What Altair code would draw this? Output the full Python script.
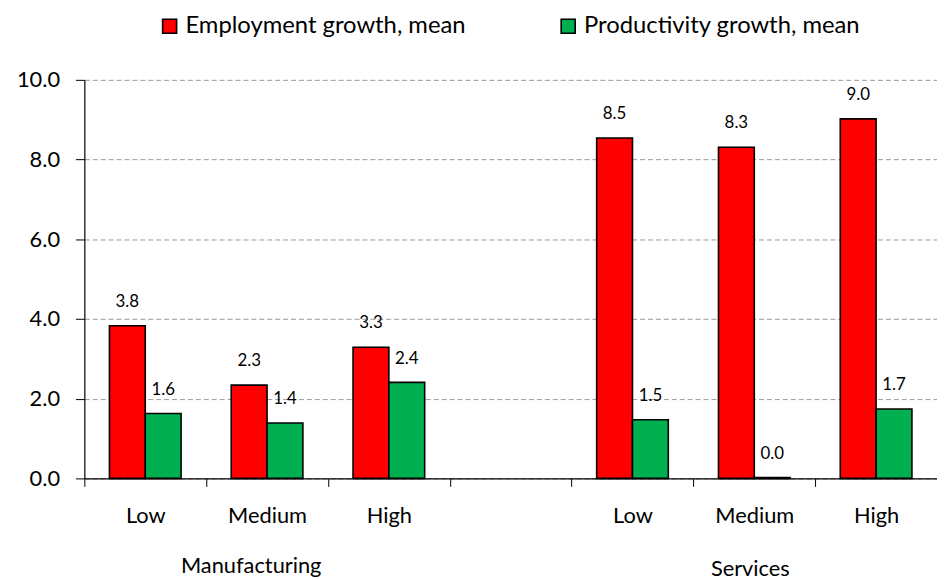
import altair as alt
import pandas as pd

categories = ["M-Low", "M-Medium", "M-High", "gap", "S-Low", "S-Medium", "S-High"]
tick_labels = ["Low", "Medium", "High", "", "Low", "Medium", "High"]
series = ["Employment growth, mean", "Productivity growth, mean"]
employment = [3.83, 2.34, 3.29, None, 8.54, 8.31, 9.02]
productivity = [1.63, 1.39, 2.41, None, 1.47, 0.02, 1.74]
groups = ["Manufacturing", "Services"]
group_centers = ["M-Medium", "S-Medium"]
colors = ["#FF0000", "#00B050"]

rows = []
for c, e, p in zip(categories, employment, productivity):
    if e is not None:
        rows.append({"cat": c, "series": series[0], "value": e})
    if p is not None:
        rows.append({"cat": c, "series": series[1], "value": p})
df = pd.DataFrame(rows)

FONT = "Lato"
cat_list = "[" + ",".join("'%s'" % c for c in categories) + "]"
lab_list = "[" + ",".join("'%s'" % t for t in tick_labels) + "]"
label_expr = f"{lab_list}[indexof({cat_list}, datum.value)]"

x_enc = alt.X(
    "cat:N",
    scale=alt.Scale(domain=categories, paddingInner=0, paddingOuter=0),
    axis=alt.Axis(
        title=None, labelExpr=label_expr, labelAngle=0, tickBand="extent",
        tickSize=8, tickColor="black", tickWidth=1, domainColor="black", domainWidth=1.2,
        labelFont=FONT, labelFontSize=22, labelColor="black", labelPadding=19, grid=False,
    ),
)
y_enc = alt.Y(
    "value:Q",
    scale=alt.Scale(domain=[0, 10], nice=False),
    axis=alt.Axis(
        title=None, values=[0, 2, 4, 6, 8, 10], format=".1f", grid=True,
        gridDash=[5, 3], gridColor="#999999", gridWidth=1, tickSize=9,
        tickColor="black", domainColor="black", domainWidth=1.2,
        labelFont=FONT, labelFontSize=22, labelColor="black", labelPadding=16,
    ),
)
xoff = alt.XOffset("series:N", scale=alt.Scale(domain=series, paddingInner=0, paddingOuter=0.7))

bars = alt.Chart(df).mark_bar(stroke="black", strokeWidth=1.6).encode(
    x=x_enc,
    xOffset=xoff,
    y=y_enc,
    color=alt.Color(
        "series:N",
        scale=alt.Scale(domain=series, range=colors),
        legend=alt.Legend(
            title=None, orient="none", legendX=74, legendY=-66, direction="horizontal",
            symbolType="square", symbolSize=200, symbolStrokeColor="black",
            symbolStrokeWidth=1.6, symbolOpacity=1, labelFont=FONT, labelFontSize=24,
            labelColor="black", labelOffset=4, columnPadding=91, labelLimit=500,
        ),
    ),
)

labels = alt.Chart(df).mark_text(
    font=FONT, fontSize=17, color="black", baseline="middle", dy=-24
).encode(
    x=alt.X("cat:N"),
    xOffset=xoff,
    y=alt.Y("value:Q"),
    text=alt.Text("value:Q", format=".1f"),
)

g1 = alt.Chart(pd.DataFrame({"cat": [group_centers[0]], "label": [groups[0]]})).mark_text(
    font=FONT, fontSize=22, color="black", baseline="middle", dx=-16
).encode(x=alt.X("cat:N"), y=alt.value(490), text="label:N")

g2 = alt.Chart(pd.DataFrame({"cat": [group_centers[1]], "label": [groups[1]]})).mark_text(
    font=FONT, fontSize=22, color="black", baseline="middle", dx=-4
).encode(x=alt.X("cat:N"), y=alt.value(493), text="label:N")

chart = alt.layer(bars, labels, g1, g2).properties(
    width=860, height=402,
    autosize=alt.AutoSizeParams(type="none"),
    padding={"left": 77, "top": 70, "right": 0, "bottom": 100},
    background="white",
).configure_view(stroke=None)

chart.save("out.html", embed_options={"renderer": "svg", "actions": False})
